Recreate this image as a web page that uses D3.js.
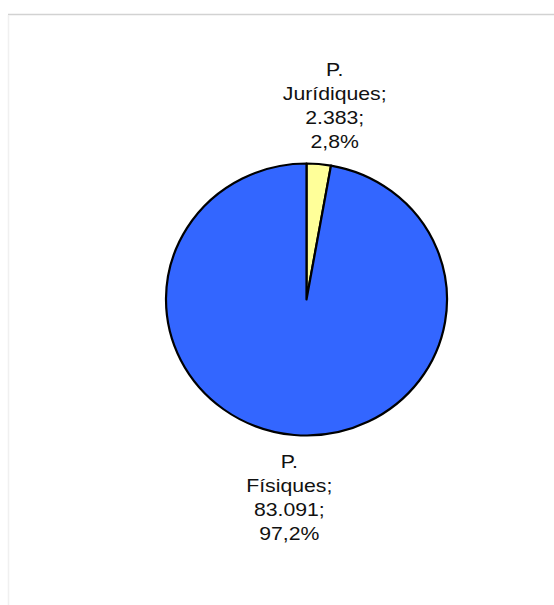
<!DOCTYPE html>
<html>
<head>
<meta charset="utf-8">
<script src="https://cdn.jsdelivr.net/npm/d3@7"></script>
<style>
  body { margin: 0; background: #fff; }
  svg { display: block; }
</style>
</head>
<body>
<svg id="chart" width="554" height="605"></svg>
<script>
// categories and values
const categories = ['P. Jurídiques', 'P. Físiques'];
const values = [2383, 83091];
const colors = ['#FFFF99', '#3366FF'];

const svg = d3.select('#chart');
const width = 554;
const height = 605;

const cx = 306.5;
const cy = 299.5;
const rx = 140.5;
const ry = 136;

const locale = d3.formatLocale({ decimal: ',', thousands: '.', grouping: [3], currency: ['', '€'] });
const fmtVal = locale.format(',d');
const fmtPct = locale.format('.1%');

// chart area border
svg.append('line')
  .attr('x1', 8).attr('x2', width)
  .attr('y1', 14.5).attr('y2', 14.5)
  .attr('stroke', '#d2d2d2').attr('stroke-width', 1.5);
svg.append('line')
  .attr('x1', 8.5).attr('x2', 8.5)
  .attr('y1', 15).attr('y2', height)
  .attr('stroke', '#f0f0f0').attr('stroke-width', 1.5);

const total = d3.sum(values);
const data = categories.map((name, i) => ({ name, value: values[i], color: colors[i] }));

const pie = d3.pie().sort(null).value(d => d.value);
const arcs = pie(data);

const arc = d3.arc().innerRadius(0).outerRadius(rx);

const g = svg.append('g')
  .attr('transform', `translate(${cx},${cy}) scale(1,${ry / rx})`);

g.selectAll('path')
  .data(arcs)
  .join('path')
  .attr('d', arc)
  .attr('fill', d => d.data.color)
  .attr('stroke', '#000')
  .attr('stroke-width', 2.2)
  .attr('stroke-linejoin', 'round');

// labels outside the slices
const lineHeight = 24;
const nudge = [11, 0];
const labels = svg.append('g')
  .attr('font-family', '"Liberation Sans", Arial, Helvetica, sans-serif')
  .attr('font-size', 18)
  .attr('fill', '#111');

arcs.forEach((a, i) => {
  const mid = (a.startAngle + a.endAngle) / 2;
  const lines = a.data.name.split(' ');
  lines[lines.length - 1] += ';';
  lines.push(fmtVal(a.data.value) + ';');
  lines.push(fmtPct(a.data.value / total));
  const x = cx + Math.sin(mid) * (rx + 56) + nudge[i];
  const above = Math.cos(mid) > 0;
  const firstBaseline = above
    ? cy - ry - 16 - (lines.length - 1) * lineHeight
    : cy + ry + 32;
  lines.forEach((t, j) => {
    labels.append('text')
      .attr('text-anchor', 'middle')
      .attr('transform', `translate(${x},${firstBaseline + j * lineHeight}) scale(1.18,1)`)
      .text(t);
  });
});
</script>
</body>
</html>
